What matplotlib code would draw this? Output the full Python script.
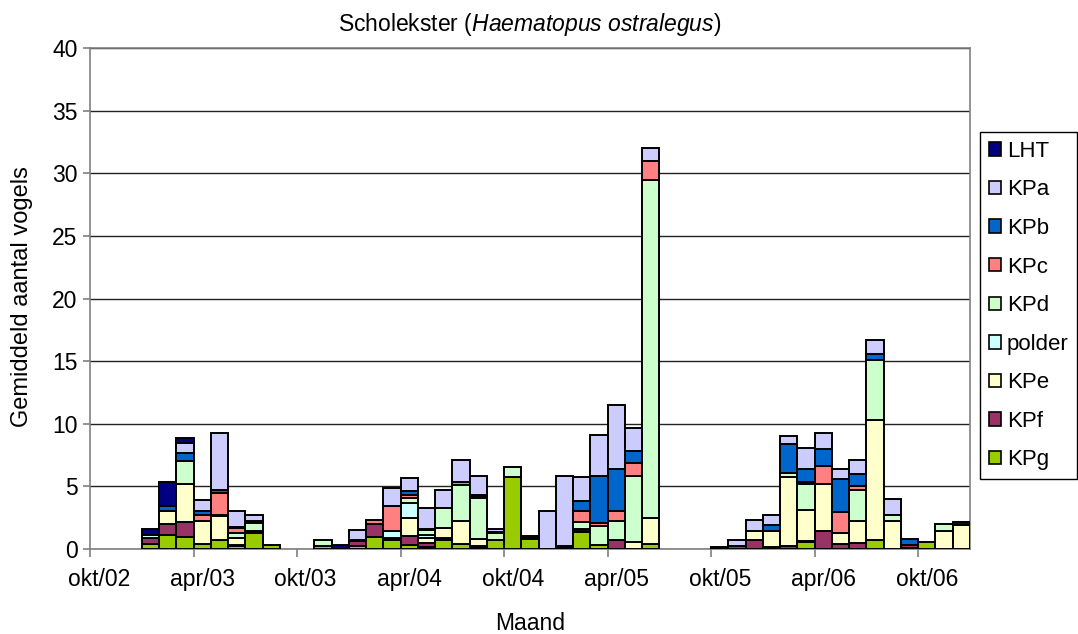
import numpy as np
import matplotlib
matplotlib.use("Agg")
import matplotlib.pyplot as plt
from matplotlib.patches import Patch

plt.rcParams['font.family'] = ['Liberation Sans', 'DejaVu Sans']
plt.rcParams['mathtext.fontset'] = 'custom'
plt.rcParams['mathtext.rm'] = 'Liberation Sans'
plt.rcParams['mathtext.it'] = 'Liberation Sans:italic'

# maanden okt/02 t/m dec/06
maand_namen = ["jan", "feb", "mrt", "apr", "mei", "jun",
               "jul", "aug", "sep", "okt", "nov", "dec"]
maanden = [f"{maand_namen[(9 + i) % 12]}/{(2 + (9 + i) // 12):02d}" for i in range(51)]
tick_labels = ["okt/02", "apr/03", "okt/03", "apr/04", "okt/04",
               "apr/05", "okt/05", "apr/06", "okt/06"]

# gemiddeld aantal vogels per gebied (onder naar boven gestapeld)
kpg = [0, 0, 0, 0.40, 1.15, 0.93, 0.40, 0.70, 0.25, 1.25, 0.30, 0, 0, 0.25, 0, 0.25, 0.95,
       0.70, 0.30, 0.15, 0.70, 0.40, 0.10, 0.70, 5.75, 0.80, 0, 0.10, 1.35, 0.30, 0, 0,
       0.40, 0, 0, 0, 0.05, 0, 0, 0, 0, 0.55, 0, 0, 0, 0.70, 0, 0.10, 0.55, 0, 0]
kpf = [0, 0, 0, 0.50, 0.85, 1.22, 0, 0, 0.10, 0, 0, 0, 0, 0, 0, 0.40, 1.05,
       0.10, 0.75, 0.35, 0.15, 0, 0.10, 0, 0, 0.10, 0, 0.10, 0.10, 0, 0.70, 0,
       0, 0, 0, 0, 0.10, 0.20, 0.70, 0.15, 0.20, 0.10, 1.40, 0.40, 0.50, 0, 0, 0.20, 0, 0, 0]
kpe = [0, 0, 0, 0, 1.00, 3.05, 1.86, 1.90, 0.55, 0.15, 0, 0, 0, 0, 0, 0.05, 0,
       0.05, 1.45, 0.40, 0.80, 1.85, 0.60, 0.05, 0, 0, 0, 0, 0.15, 0, 0, 0.55,
       2.05, 0, 0, 0, 0, 0, 0.70, 1.30, 5.55, 2.50, 3.75, 0.85, 1.75, 9.60, 2.25, 0, 0, 1.45, 1.95]
polder = [0, 0, 0, 0.25, 0, 0, 0, 0, 0, 0, 0, 0, 0, 0, 0, 0, 0,
          0.55, 1.15, 0.20, 0, 0, 0, 0, 0, 0, 0, 0, 0, 0, 0, 0,
          0, 0, 0, 0, 0, 0, 0, 0, 0, 0, 0, 0, 0, 0, 0, 0, 0, 0, 0]
kpd = [0, 0, 0, 0, 0, 1.80, 0, 0.10, 0.40, 0.70, 0, 0, 0, 0.50, 0, 0, 0,
       0, 0.40, 0.40, 1.65, 2.85, 3.25, 0.55, 0.80, 0, 0, 0, 0.55, 1.50, 1.50, 5.30,
       27.05, 0, 0, 0, 0, 0, 0, 0, 0.35, 2.00, 0, 0, 2.45, 4.80, 0.50, 0, 0, 0.55, 0]
kpc = [0, 0, 0, 0, 0, 0.05, 0.43, 1.75, 0.40, 0.10, 0, 0, 0, 0, 0, 0, 0.30,
       2.00, 0.25, 0.10, 0, 0.25, 0.15, 0.05, 0, 0.10, 0, 0, 0.90, 0.30, 0.85, 1.00,
       1.50, 0, 0, 0, 0, 0, 0, 0, 0, 0.20, 1.50, 1.70, 0.30, 0, 0, 0, 0, 0, 0]
kpb = [0, 0, 0, 0, 0.45, 0.65, 0.37, 0.25, 0.05, 0, 0, 0, 0, 0, 0, 0, 0,
       0, 0.30, 0, 0, 0, 0.10, 0, 0, 0, 0, 0, 0.75, 3.70, 3.35, 0.95,
       0, 0, 0, 0, 0, 0, 0, 0.45, 2.30, 1.00, 1.30, 2.60, 1.00, 0.50, 0, 0.50, 0, 0, 0]
kpa = [0, 0, 0, 0, 0, 0.80, 0.85, 4.60, 1.30, 0.55, 0, 0, 0, 0, 0, 0.80, 0,
       1.50, 1.10, 1.70, 1.45, 1.75, 1.50, 0.25, 0, 0, 3.05, 5.60, 1.95, 3.30, 5.10, 1.90,
       1.00, 0, 0, 0, 0, 0.55, 0.90, 0.85, 0.60, 1.70, 1.30, 0.80, 1.10, 1.10, 1.25, 0, 0, 0, 0]
lht = [0, 0, 0, 0.45, 1.90, 0.40, 0, 0, 0, 0, 0, 0, 0, 0, 0.30, 0, 0,
       0, 0, 0, 0, 0, 0, 0, 0, 0, 0, 0, 0, 0, 0, 0,
       0, 0, 0, 0, 0, 0, 0, 0, 0, 0, 0, 0, 0, 0, 0, 0, 0, 0, 0.20]

reeksen = [
    ("KPg", kpg, "#99CC00"),
    ("KPf", kpf, "#993366"),
    ("KPe", kpe, "#FFFFCC"),
    ("polder", polder, "#CCFFFF"),
    ("KPd", kpd, "#CCFFCC"),
    ("KPc", kpc, "#FF8080"),
    ("KPb", kpb, "#0066CC"),
    ("KPa", kpa, "#CCCCFF"),
    ("LHT", lht, "#000080"),
]

W, H = 1078, 634
fig = plt.figure(figsize=(W / 100, H / 100), dpi=100)
ax = fig.add_axes([90 / W, 1 - 549 / H, 880 / W, 501 / H])

x = np.arange(len(maanden))
bottom = np.zeros(len(x))
handles = []
for naam, waarden, kleur in reeksen:
    v = np.array(waarden, dtype=float)
    m = v > 0
    ax.bar(x[m], v[m], width=1.0, bottom=bottom[m], color=kleur,
           edgecolor="black", linewidth=1.4, zorder=3)
    bottom += v
    handles.append(Patch(facecolor=kleur, edgecolor="black", linewidth=1.2, label=naam))

ax.set_xlim(-0.5, len(maanden) - 0.5)
ax.set_ylim(0, 40)
ax.set_yticks(np.arange(0, 41, 5))
ax.yaxis.grid(True, color="#222222", linewidth=1.0, zorder=0)
ax.set_axisbelow(True)

ax.set_xticks(x[::6])
ax.set_xticklabels(tick_labels)
ax.set_xticks(np.arange(-0.5, len(maanden), 6), minor=True)
ax.tick_params(axis="x", which="major", length=0, pad=14, labelsize=16.5)
ax.tick_params(axis="x", which="minor", length=6, color="#808080", width=1.2)
ax.tick_params(axis="y", length=5, color="#808080", width=1.2, labelsize=16.5, pad=4)

for s in ax.spines.values():
    s.set_color("#808080")
    s.set_linewidth(1.2)

fig.text(530 / W, 1 - 25 / H, r"Scholekster ($\mathit{Haematopus\ ostralegus}$)",
         ha="center", va="center", fontsize=16.5)
fig.text(22 / W, 1 - 297 / H, "Gemiddeld aantal vogels", rotation=90,
         ha="center", va="center", fontsize=17)
fig.text(530 / W, 1 - 624 / H, "Maand", ha="center", va="center", fontsize=16.5)

leg = fig.legend(handles[::-1], [h.get_label() for h in handles[::-1]],
                 loc="upper left", bbox_to_anchor=(980 / W, 1 - 132 / H),
                 fontsize=16, frameon=True, fancybox=False, framealpha=1,
                 edgecolor="black", handlelength=0.55, handleheight=0.55,
                 handletextpad=0.25, labelspacing=0.79, borderpad=0.4,
                 borderaxespad=0)
leg.get_frame().set_linewidth(1.0)

fig.savefig("out.png", dpi=100)
